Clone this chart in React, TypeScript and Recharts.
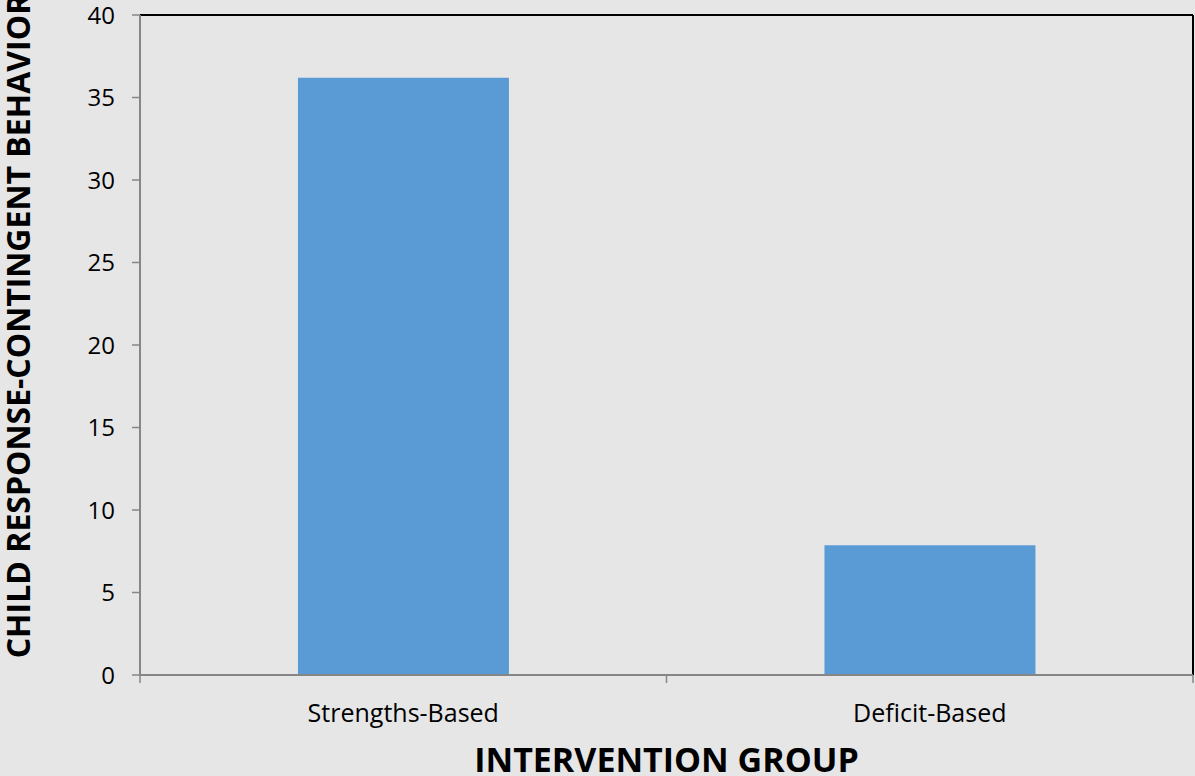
import React from 'react';
import {
  BarChart, Bar, XAxis, YAxis, Label,
} from 'recharts';

// Mean counts per intervention group
const groups = ['Strengths-Based', 'Deficit-Based'];
const behaviorScores = [36.2, 7.86];
const yTicks = [0, 5, 10, 15, 20, 25, 30, 35, 40];
const groupEdges = [0, 1, 2];

const data = groups.map((name, i) => ({ name, score: behaviorScores[i], pos: i + 0.5 }));

const FONT = '"Open Sans", Calibri, sans-serif';
const AXIS_GREY = '#868686';

const NoLabel = () => <g />;

const App: React.FC = () => {
  return (
    <div style={{ position: 'absolute', left: 0, top: 0, width: 1195, height: 776, background: '#e6e6e6', fontFamily: FONT }}>
      <BarChart
        width={1195}
        height={776}
        data={data}
        margin={{ top: 14, right: 1, bottom: 0, left: 0 }}
        barCategoryGap="30%"
      >
        {/* frame: black top and right edges */}
        <XAxis xAxisId="top" orientation="top" dataKey="name" height={1} tick={false} tickLine={false}
          axisLine={{ stroke: '#000', strokeWidth: 2 }} />
        <YAxis yAxisId="right" orientation="right" width={1} tick={false} tickLine={false}
          axisLine={{ stroke: '#000', strokeWidth: 2 }} domain={[0, 40]} />

        {/* baseline with tick marks at category boundaries */}
        <XAxis xAxisId="a_edges" type="number" dataKey="pos" domain={[0, 2]} ticks={groupEdges} height={1}
          axisLine={{ stroke: AXIS_GREY, strokeWidth: 2 }} tick={NoLabel} tickSize={8}
          tickLine={{ stroke: AXIS_GREY, strokeWidth: 1.5 }} />

        <XAxis
          xAxisId="b_names"
          dataKey="name"
          height={100}
          tickLine={false}
          axisLine={false}
          tick={{ fill: '#000', fontSize: 25, fontFamily: FONT }}
          dy={20}
        >
          <Label
            content={({ viewBox }: any) => (
              <text x={viewBox.x + viewBox.width / 2} y={viewBox.y + 96} textAnchor="middle"
                style={{ fontSize: 34, fontWeight: 700, fill: '#000', fontFamily: FONT }}>
                INTERVENTION GROUP
              </text>
            )}
          />
        </XAxis>

        <YAxis
          width={140}
          domain={[0, 40]}
          ticks={yTicks}
          interval={0}
          tickSize={8}
          tickMargin={17}
          axisLine={{ stroke: AXIS_GREY, strokeWidth: 2 }}
          tickLine={{ stroke: AXIS_GREY, strokeWidth: 1.5 }}
          tick={{ fill: '#000', fontSize: 24, fontFamily: FONT }}
        >
          <Label
            content={({ viewBox }: any) => {
              const bx = viewBox.x + 30;
              const cy = viewBox.y + viewBox.height / 2 - 19;
              return (
                <text x={bx} y={cy} transform={`rotate(-90 ${bx} ${cy})`} textAnchor="middle"
                  style={{ fontSize: 32, fontWeight: 700, fill: '#000', fontFamily: FONT }}>
                  CHILD RESPONSE-CONTINGENT BEHAVIOR
                </text>
              );
            }}
          />
        </YAxis>
        <Bar xAxisId="b_names" dataKey="score" fill="#5b9bd5" isAnimationActive={false} />
      </BarChart>
    </div>
  );
};

export default App;
